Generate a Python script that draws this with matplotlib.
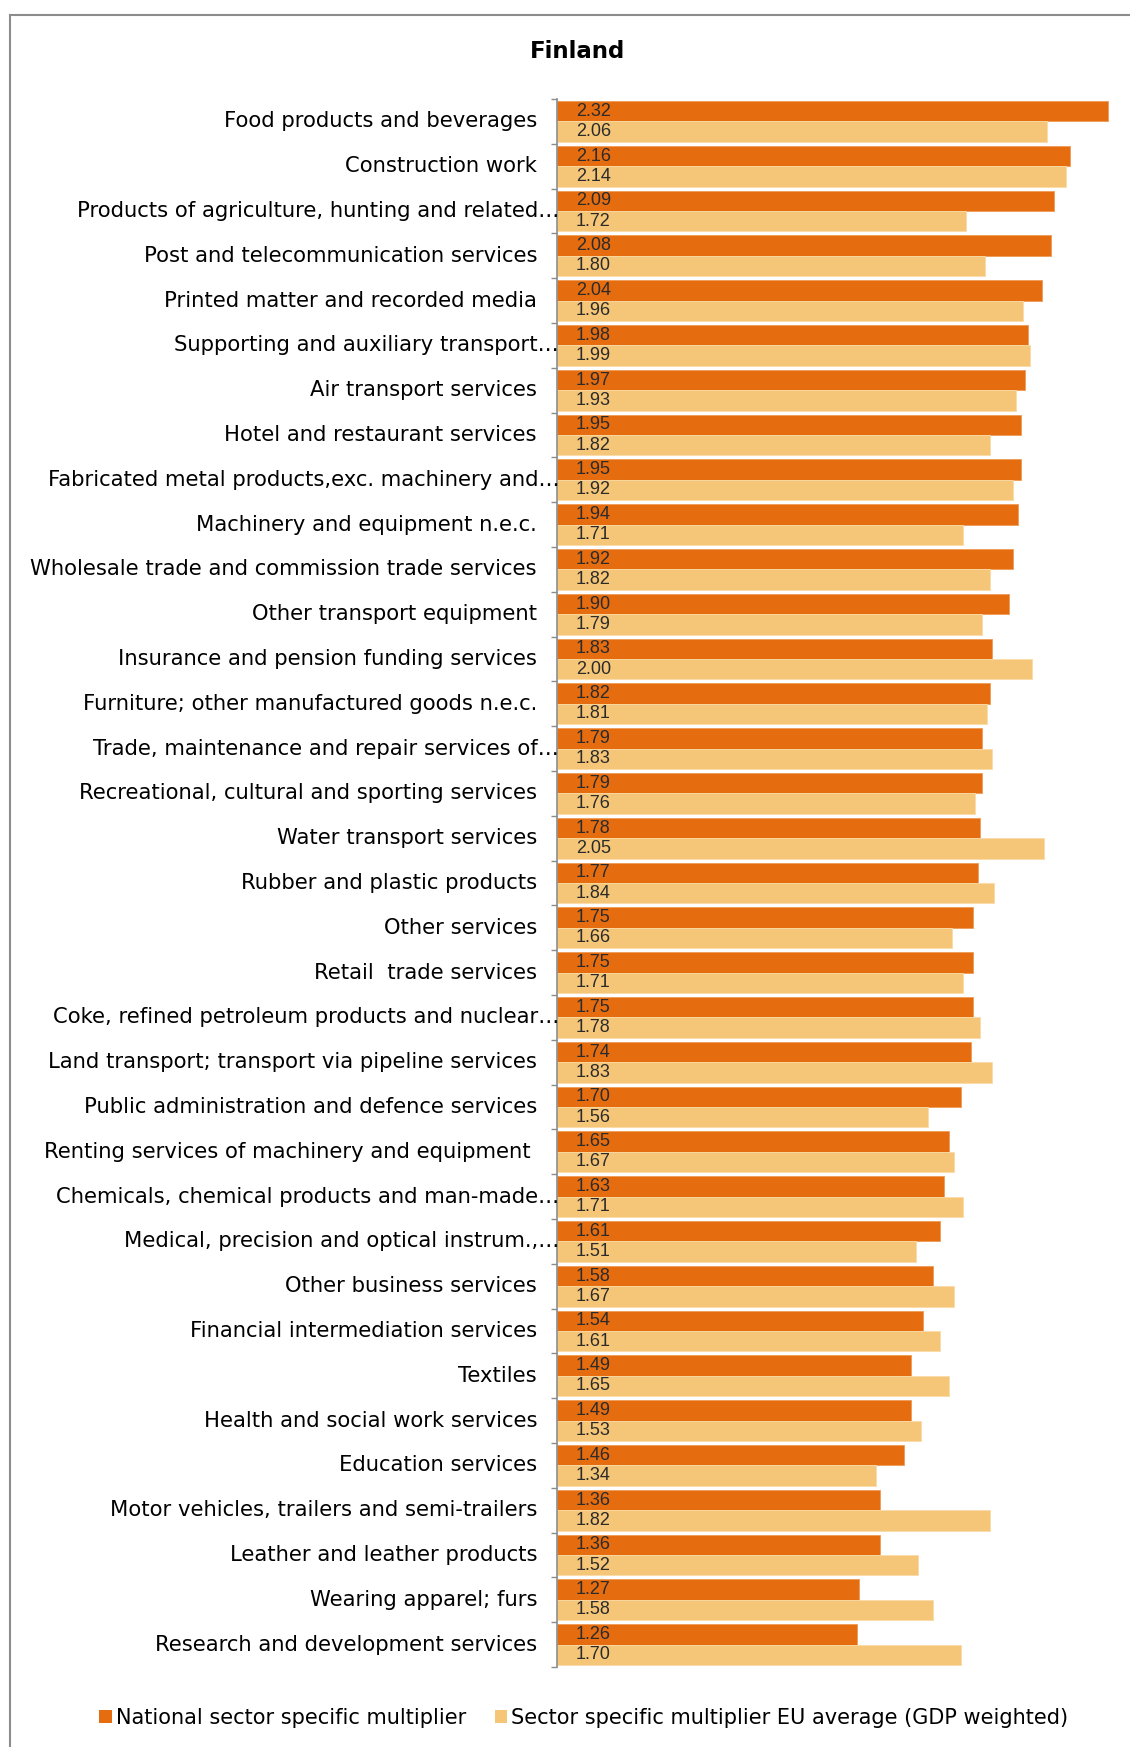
import matplotlib
matplotlib.use("Agg")
import matplotlib.pyplot as plt
from matplotlib.lines import Line2D
from matplotlib.patches import Patch
import numpy as np

# Sector multipliers for Finland, national vs. EU average (GDP weighted)
sectors = [
    "Food products and beverages",
    "Construction work",
    "Products of agriculture, hunting and related…",
    "Post and telecommunication services",
    "Printed matter and recorded media",
    "Supporting and auxiliary transport…",
    "Air transport services",
    "Hotel and restaurant services",
    "Fabricated metal products,exc. machinery and…",
    "Machinery and equipment n.e.c.",
    "Wholesale trade and commission trade services",
    "Other transport equipment",
    "Insurance and pension funding services",
    "Furniture; other manufactured goods n.e.c.",
    "Trade, maintenance and repair services of…",
    "Recreational, cultural and sporting services",
    "Water transport services",
    "Rubber and plastic products",
    "Other services",
    "Retail  trade services",
    "Coke, refined petroleum products and nuclear…",
    "Land transport; transport via pipeline services",
    "Public administration and defence services",
    "Renting services of machinery and equipment ",
    "Chemicals, chemical products and man-made…",
    "Medical, precision and optical instrum.,…",
    "Other business services",
    "Financial intermediation services",
    "Textiles",
    "Health and social work services",
    "Education services",
    "Motor vehicles, trailers and semi-trailers",
    "Leather and leather products",
    "Wearing apparel; furs",
    "Research and development services",
]

national = [2.32, 2.16, 2.09, 2.08, 2.04, 1.98, 1.97, 1.95, 1.95, 1.94,
            1.92, 1.90, 1.83, 1.82, 1.79, 1.79, 1.78, 1.77, 1.75, 1.75,
            1.75, 1.74, 1.70, 1.65, 1.63, 1.61, 1.58, 1.54, 1.49, 1.49,
            1.46, 1.36, 1.36, 1.27, 1.26]

eu_average = [2.06, 2.14, 1.72, 1.80, 1.96, 1.99, 1.93, 1.82, 1.92, 1.71,
              1.82, 1.79, 2.00, 1.81, 1.83, 1.76, 2.05, 1.84, 1.66, 1.71,
              1.78, 1.83, 1.56, 1.67, 1.71, 1.51, 1.67, 1.61, 1.65, 1.53,
              1.34, 1.82, 1.52, 1.58, 1.70]

series_names = ["National sector specific multiplier",
                "Sector specific multiplier EU average (GDP weighted)"]

ORANGE = "#E66C10"
LIGHT = "#F5C677"
GRID_GREY = "#8C8C8C"

W, H, DPI = 1130, 1747, 100
fig = plt.figure(figsize=(W / DPI, H / DPI), dpi=DPI)

# plot area in pixel terms
ax_left, ax_right = 557, 1130
ax_top, ax_bottom = 99, 1667
ax = fig.add_axes([ax_left / W, 1 - ax_bottom / H,
                   (ax_right - ax_left) / W, (ax_bottom - ax_top) / H])

n = len(sectors)
y = np.arange(n)
bh = 0.455

ax.barh(y - bh / 2, national, height=bh, color=ORANGE,
        edgecolor="#EE9A55", linewidth=0.6, label=series_names[0])
ax.barh(y + bh / 2, eu_average, height=bh, color=LIGHT,
        edgecolor="#F9DCA8", linewidth=0.6, label=series_names[1])

px_per_unit = 237.7
ax.set_xlim(0, (ax_right - ax_left) / px_per_unit)
ax.set_ylim(n - 0.5, -0.5)

# value labels inside the bars
for i in range(n):
    for val, yy in ((national[i], y[i] - bh / 2), (eu_average[i], y[i] + bh / 2)):
        ax.annotate(f"{val:.2f}", xy=(0, yy), xycoords="data",
                    xytext=(19, 0), textcoords="offset pixels",
                    ha="left", va="center", fontsize=13,
                    family="Liberation Sans", color="#2b2b2b")

# category labels
for i, name in enumerate(sectors):
    truncated = name.endswith("…")
    off = 2 if truncated else -20
    ax.annotate(name, xy=(0, y[i]), xycoords=("axes fraction", "data"),
                xytext=(off, 0), textcoords="offset pixels",
                ha="right", va="center", fontsize=15.2,
                family="DejaVu Sans", color="black")

# axis styling
for s in ("top", "right", "bottom"):
    ax.spines[s].set_visible(False)
ax.spines["left"].set_color(GRID_GREY)
ax.spines["left"].set_linewidth(1.2)
ax.set_xticks([])
ax.set_yticks([])
ax.set_yticks(np.arange(-0.5, n, 1.0), minor=True)
ax.tick_params(axis="y", which="minor", length=4.3, width=1.0,
               color=GRID_GREY, direction="out")
ax.tick_params(axis="y", which="major", length=0)

# title
fig.text(577 / W, 1 - 52 / H, "Finland", ha="center", va="center",
         fontsize=16.5, weight="bold", family="DejaVu Sans")

# legend
handles = [Patch(facecolor=ORANGE, edgecolor="none"),
           Patch(facecolor=LIGHT, edgecolor="none")]
fig.legend(handles, series_names, loc="center",
           bbox_to_anchor=(584 / W, 1 - 1718 / H), ncol=2, frameon=False,
           prop={"family": "DejaVu Sans", "size": 15},
           handlelength=0.58, handleheight=0.58, handletextpad=0.2,
           columnspacing=1.4, borderaxespad=0)

# outer chart border (extends past right and bottom edges)
fig.add_artist(Line2D([10 / W, 1.01], [1 - 15 / H, 1 - 15 / H],
                      transform=fig.transFigure, color=GRID_GREY, lw=1.5))
fig.add_artist(Line2D([10 / W, 10 / W], [1 - 15 / H, -0.01],
                      transform=fig.transFigure, color=GRID_GREY, lw=1.5))

fig.savefig("out.png", dpi=DPI)
